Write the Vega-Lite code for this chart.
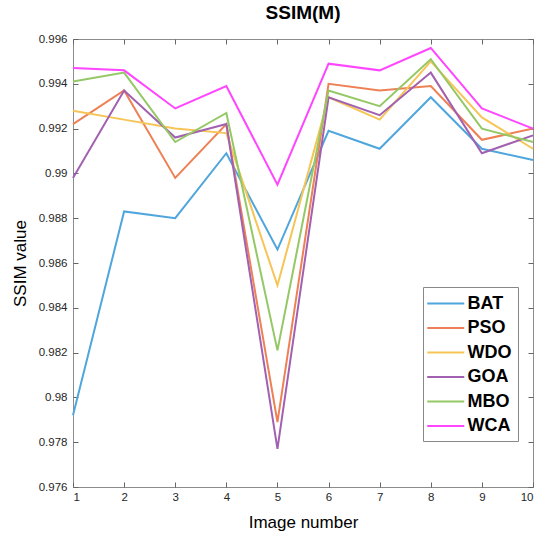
{
  "$schema": "https://vega.github.io/schema/vega-lite/v6.json",
  "autosize": "none",
  "padding": {"left": 73, "top": 39, "right": 11, "bottom": 50},
  "width": 460,
  "height": 448,
  "background": "white",
  "title": {"text": "SSIM(M)", "font": "Liberation Sans", "fontSize": 19, "fontWeight": "bold", "color": "#000", "anchor": "middle", "offset": 10},
  "config": {
    "view": {"stroke": "#8c8c8c", "strokeWidth": 1},
    "font": "Liberation Sans",
    "axis": {"grid": false, "domain": false, "tickColor": "#666", "tickSize": -5, "tickWidth": 1, "labelFont": "Liberation Sans", "labelFontSize": 11.5, "labelColor": "#262626", "titleFont": "Liberation Sans", "titleFontSize": 17, "titleFontWeight": "normal", "titleColor": "#000"}
  },
  "data": {"values": [
    {"img": 1, "alg": "BAT", "v": 0.9792}, {"img": 2, "alg": "BAT", "v": 0.9883}, {"img": 3, "alg": "BAT", "v": 0.9880}, {"img": 4, "alg": "BAT", "v": 0.9909}, {"img": 5, "alg": "BAT", "v": 0.9866}, {"img": 6, "alg": "BAT", "v": 0.9919}, {"img": 7, "alg": "BAT", "v": 0.9911}, {"img": 8, "alg": "BAT", "v": 0.9934}, {"img": 9, "alg": "BAT", "v": 0.9911}, {"img": 10, "alg": "BAT", "v": 0.9906},
    {"img": 1, "alg": "PSO", "v": 0.9922}, {"img": 2, "alg": "PSO", "v": 0.9937}, {"img": 3, "alg": "PSO", "v": 0.9898}, {"img": 4, "alg": "PSO", "v": 0.9922}, {"img": 5, "alg": "PSO", "v": 0.9789}, {"img": 6, "alg": "PSO", "v": 0.9940}, {"img": 7, "alg": "PSO", "v": 0.9937}, {"img": 8, "alg": "PSO", "v": 0.9939}, {"img": 9, "alg": "PSO", "v": 0.9915}, {"img": 10, "alg": "PSO", "v": 0.9920},
    {"img": 1, "alg": "WDO", "v": 0.9928}, {"img": 2, "alg": "WDO", "v": 0.9924}, {"img": 3, "alg": "WDO", "v": 0.9920}, {"img": 4, "alg": "WDO", "v": 0.9918}, {"img": 5, "alg": "WDO", "v": 0.9850}, {"img": 6, "alg": "WDO", "v": 0.9934}, {"img": 7, "alg": "WDO", "v": 0.9924}, {"img": 8, "alg": "WDO", "v": 0.9950}, {"img": 9, "alg": "WDO", "v": 0.9925}, {"img": 10, "alg": "WDO", "v": 0.9911},
    {"img": 1, "alg": "GOA", "v": 0.9898}, {"img": 2, "alg": "GOA", "v": 0.9937}, {"img": 3, "alg": "GOA", "v": 0.9916}, {"img": 4, "alg": "GOA", "v": 0.9922}, {"img": 5, "alg": "GOA", "v": 0.9777}, {"img": 6, "alg": "GOA", "v": 0.9934}, {"img": 7, "alg": "GOA", "v": 0.9926}, {"img": 8, "alg": "GOA", "v": 0.9945}, {"img": 9, "alg": "GOA", "v": 0.9909}, {"img": 10, "alg": "GOA", "v": 0.9917},
    {"img": 1, "alg": "MBO", "v": 0.9941}, {"img": 2, "alg": "MBO", "v": 0.9945}, {"img": 3, "alg": "MBO", "v": 0.9914}, {"img": 4, "alg": "MBO", "v": 0.9927}, {"img": 5, "alg": "MBO", "v": 0.9821}, {"img": 6, "alg": "MBO", "v": 0.9937}, {"img": 7, "alg": "MBO", "v": 0.9930}, {"img": 8, "alg": "MBO", "v": 0.9951}, {"img": 9, "alg": "MBO", "v": 0.9920}, {"img": 10, "alg": "MBO", "v": 0.9914},
    {"img": 1, "alg": "WCA", "v": 0.9947}, {"img": 2, "alg": "WCA", "v": 0.9946}, {"img": 3, "alg": "WCA", "v": 0.9929}, {"img": 4, "alg": "WCA", "v": 0.9939}, {"img": 5, "alg": "WCA", "v": 0.9895}, {"img": 6, "alg": "WCA", "v": 0.9949}, {"img": 7, "alg": "WCA", "v": 0.9946}, {"img": 8, "alg": "WCA", "v": 0.9956}, {"img": 9, "alg": "WCA", "v": 0.9929}, {"img": 10, "alg": "WCA", "v": 0.9920}
  ]},
  "resolve": {"axis": {"x": "independent", "y": "independent"}},
  "layer": [
    {
      "mark": {"type": "line", "strokeWidth": 2},
      "encoding": {
        "x": {"field": "img", "type": "quantitative", "scale": {"domain": [1, 10], "nice": false, "zero": false},
              "axis": {"orient": "bottom", "title": "Image number", "values": [1,2,3,4,5,6,7,8,9,10], "labelPadding": 9, "titlePadding": 12}},
        "y": {"field": "v", "type": "quantitative", "scale": {"domain": [0.976, 0.996], "nice": false, "zero": false},
              "axis": {"orient": "left", "title": "SSIM value", "values": [0.976,0.978,0.98,0.982,0.984,0.986,0.988,0.99,0.992,0.994,0.996], "format": "~g", "labelPadding": 11, "titlePadding": 9}},
        "color": {"field": "alg", "type": "nominal",
          "scale": {"domain": ["BAT","PSO","WDO","GOA","MBO","WCA"], "range": ["#4fa6dc","#ee8055","#f7c456","#a160b0","#94c865","#ff45ff"]},
          "legend": {"title": null, "orient": "none", "legendX": 350, "legendY": 248, "symbolType": "M-1.324,0H2.676", "symbolSize": 342, "symbolStrokeWidth": 2, "labelFontSize": 18, "labelFontWeight": "bold", "labelFont": "Liberation Sans", "labelColor": "#000", "fillColor": "white", "strokeColor": "#888", "padding": 6, "rowPadding": 4.5, "labelOffset": 17.5}
        }
      }
    },
    {
      "mark": {"type": "line", "opacity": 0},
      "encoding": {
        "x": {"field": "img", "type": "quantitative", "axis": {"orient": "top", "title": null, "labels": false, "values": [1,2,3,4,5,6,7,8,9,10]}},
        "y": {"field": "v", "type": "quantitative", "axis": {"orient": "right", "title": null, "labels": false, "values": [0.976,0.978,0.98,0.982,0.984,0.986,0.988,0.99,0.992,0.994,0.996]}},
        "detail": {"field": "alg"}
      }
    }
  ]
}
